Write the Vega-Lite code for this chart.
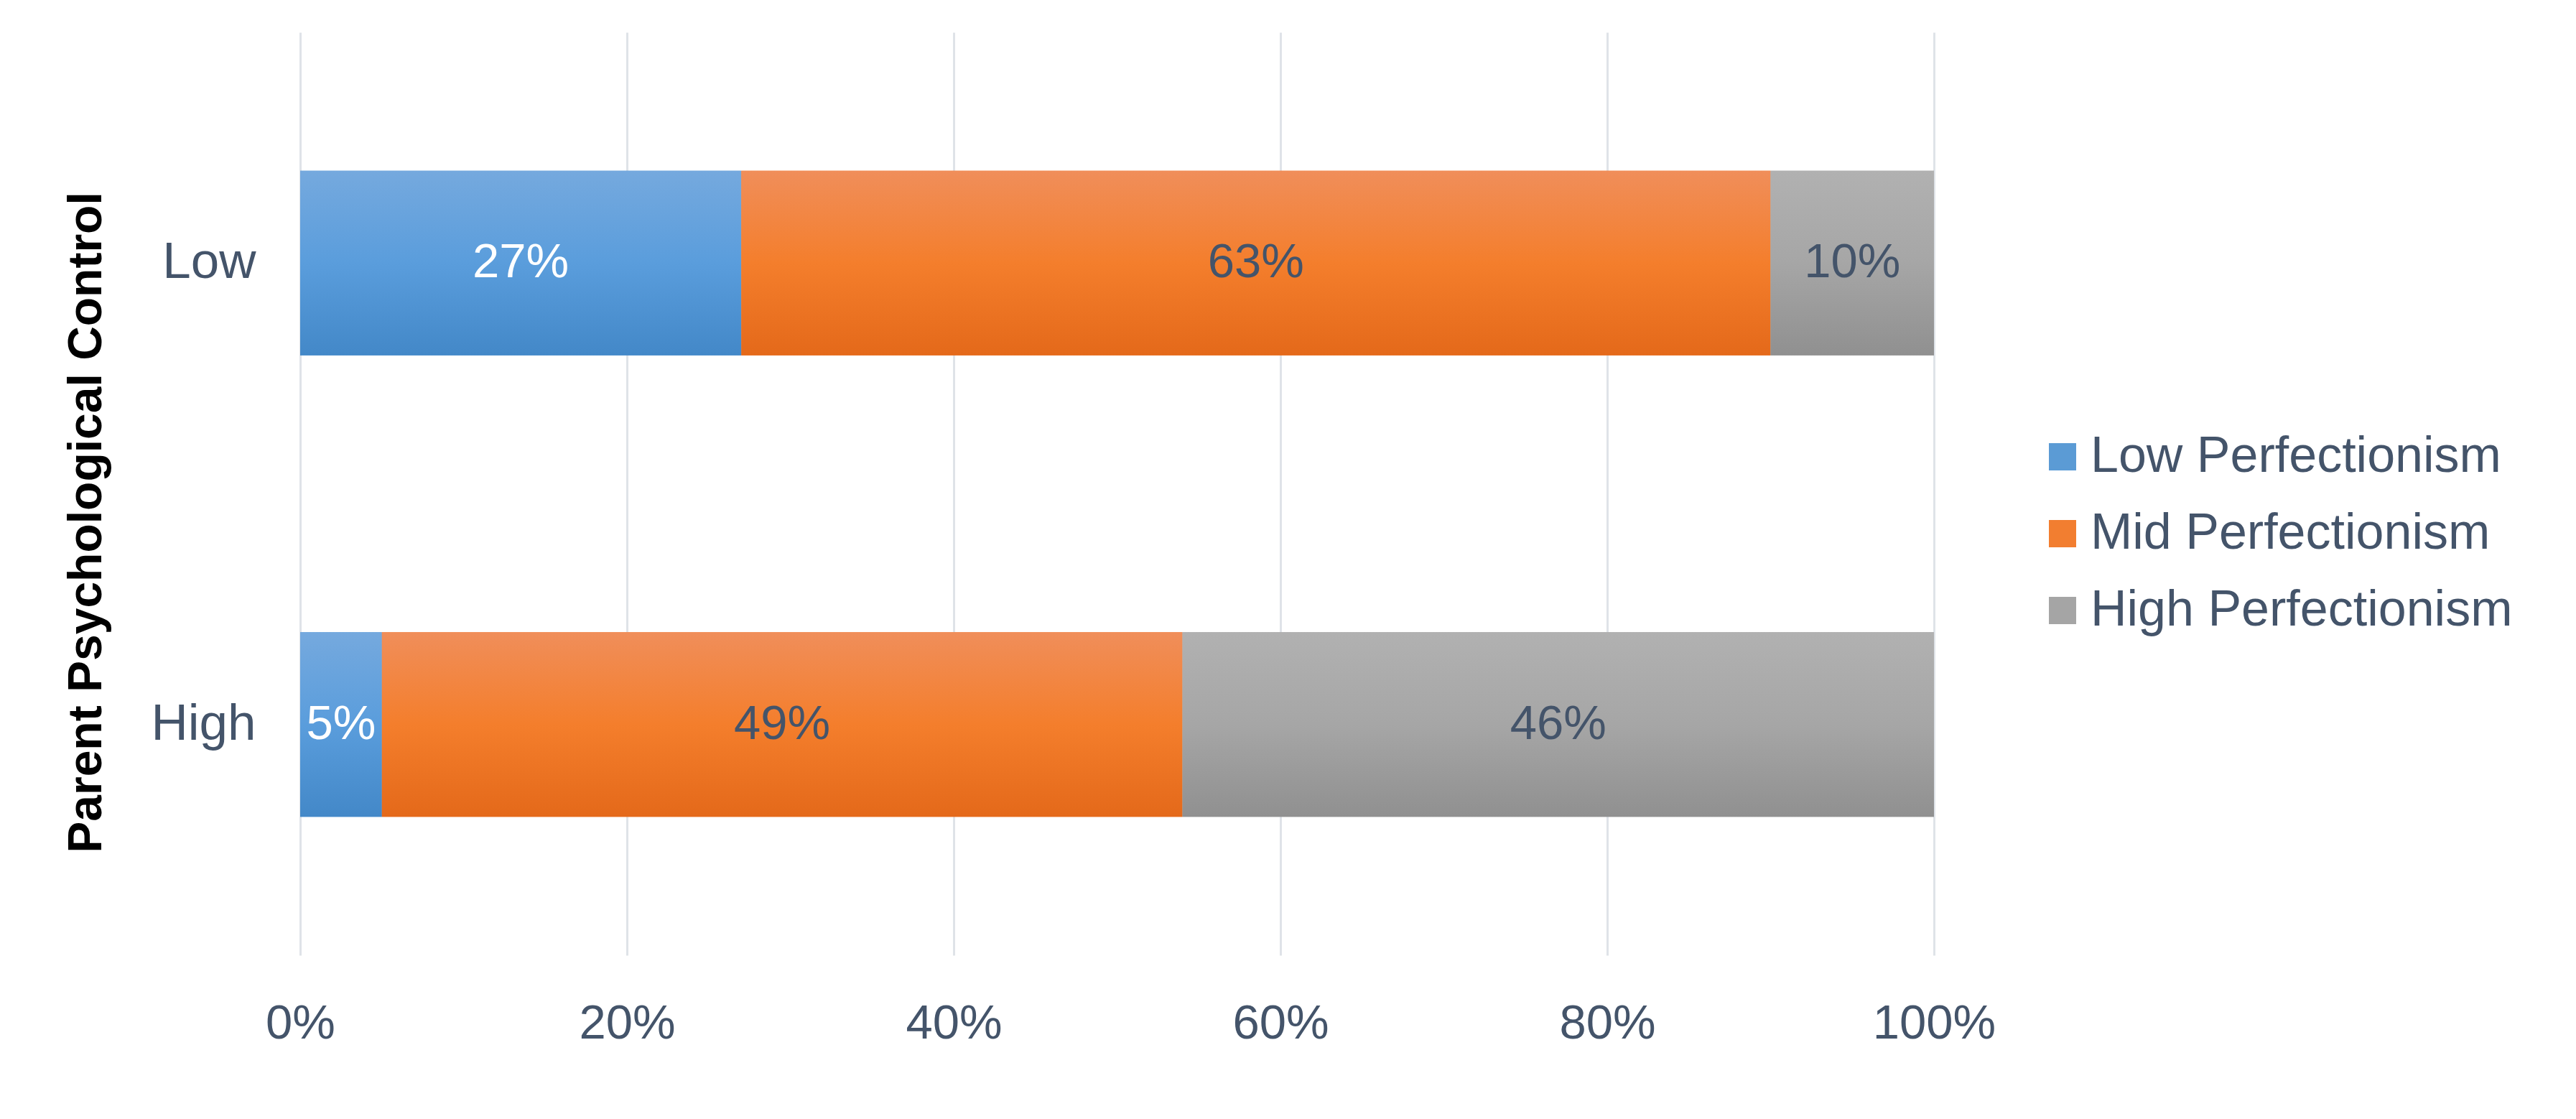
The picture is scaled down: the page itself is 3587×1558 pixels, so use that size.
{
  "$schema": "https://vega.github.io/schema/vega-lite/v6.json",
  "width": 2275,
  "height": 1285,
  "autosize": "none",
  "padding": {"left": 418, "top": 45, "right": 894, "bottom": 228},
  "background": "white",
  "config": {
    "view": {"stroke": null},
    "font": "Liberation Sans"
  },
  "data": {
    "values": [
      {"control": "Low", "series": "Low Perfectionism", "rank": 1, "value": 0.27},
      {"control": "Low", "series": "Mid Perfectionism", "rank": 2, "value": 0.63},
      {"control": "Low", "series": "High Perfectionism", "rank": 3, "value": 0.10},
      {"control": "High", "series": "Low Perfectionism", "rank": 1, "value": 0.05},
      {"control": "High", "series": "Mid Perfectionism", "rank": 2, "value": 0.49},
      {"control": "High", "series": "High Perfectionism", "rank": 3, "value": 0.46}
    ]
  },
  "resolve": {"scale": {"color": "independent"}},
  "encoding": {
    "order": {"field": "rank", "type": "quantitative", "sort": "ascending"},
    "y": {
      "field": "control",
      "type": "nominal",
      "sort": ["Low", "High"],
      "scale": {"paddingInner": 0.6, "paddingOuter": 0.3},
      "axis": {
        "title": "Parent Psychological Control",
        "titleFont": "Liberation Sans",
        "titleFontWeight": "bold",
        "titleFontSize": 66,
        "titleColor": "#000000",
        "titleAngle": -90,
        "titleAlign": "center",
        "titleBaseline": "alphabetic",
        "titleX": -278,
        "titleY": 682,
        "labelFontSize": 71,
        "labelColor": "#44546A",
        "labelPadding": 62,
        "labelFontWeight": "normal",
        "domain": false,
        "ticks": false,
        "grid": false
      }
    },
    "x": {
      "field": "value",
      "type": "quantitative",
      "stack": "zero",
      "scale": {"domain": [0, 1], "nice": false},
      "axis": {
        "title": null,
        "values": [0, 0.2, 0.4, 0.6, 0.8, 1],
        "format": ".0%",
        "labelFontSize": 67,
        "labelColor": "#44546A",
        "labelPadding": 62,
        "labelFlush": false,
        "labelOverlap": false,
        "domain": false,
        "ticks": false,
        "grid": true,
        "gridColor": "#DFE3E8",
        "gridWidth": 3
      }
    }
  },
  "layer": [
    {
      "mark": {"type": "bar"},
      "encoding": {
        "color": {
          "field": "series",
          "type": "nominal",
          "sort": ["Low Perfectionism", "Mid Perfectionism", "High Perfectionism"],
          "scale": {
            "range": ["#5B9BD5", "#F27E30", "#A5A5A5"]
          },
          "legend": {
            "orient": "none",
            "legendX": 2419,
            "legendY": 556,
            "title": null,
            "symbolType": "square",
            "symbolSize": 1444,
            "symbolStrokeWidth": 0,
            "symbolOpacity": 1,
            "labelFontSize": 70,
            "labelColor": "#44546A",
            "labelOffset": 4,
            "rowPadding": 37,
            "labelLimit": 1000
          }
        }
      }
    },
    {
      "mark": {"type": "bar"},
      "encoding": {
        "color": {
          "field": "series",
          "type": "nominal",
          "sort": ["Low Perfectionism", "Mid Perfectionism", "High Perfectionism"],
          "legend": null
        },
        "fill": {
          "condition": [
            {"test": "datum.series === 'Low Perfectionism'", "value": {"gradient": "linear", "x1": 0, "y1": 0, "x2": 0, "y2": 1, "stops": [{"offset": 0, "color": "#75A9DE"}, {"offset": 0.5, "color": "#5A9DDC"}, {"offset": 1, "color": "#4388C8"}]}},
            {"test": "datum.series === 'Mid Perfectionism'", "value": {"gradient": "linear", "x1": 0, "y1": 0, "x2": 0, "y2": 1, "stops": [{"offset": 0, "color": "#F08E5A"}, {"offset": 0.5, "color": "#F47E2C"}, {"offset": 1, "color": "#E4691A"}]}}
          ],
          "value": {"gradient": "linear", "x1": 0, "y1": 0, "x2": 0, "y2": 1, "stops": [{"offset": 0, "color": "#B1B1B1"}, {"offset": 0.5, "color": "#A6A6A6"}, {"offset": 1, "color": "#909090"}]}
        }
      }
    },
    {
      "mark": {"type": "text", "fontSize": 67, "baseline": "middle", "align": "center"},
      "encoding": {
        "x": {
          "field": "value",
          "type": "quantitative",
          "stack": "zero",
          "bandPosition": 0.5
        },
        "text": {"field": "value", "type": "quantitative", "format": ".0%"},
        "color": {
          "field": "series",
          "type": "nominal",
          "sort": ["Low Perfectionism", "Mid Perfectionism", "High Perfectionism"],
          "scale": {
            "range": ["#FFFFFF", "#44546A", "#44546A"]
          },
          "legend": null
        }
      }
    }
  ]
}
